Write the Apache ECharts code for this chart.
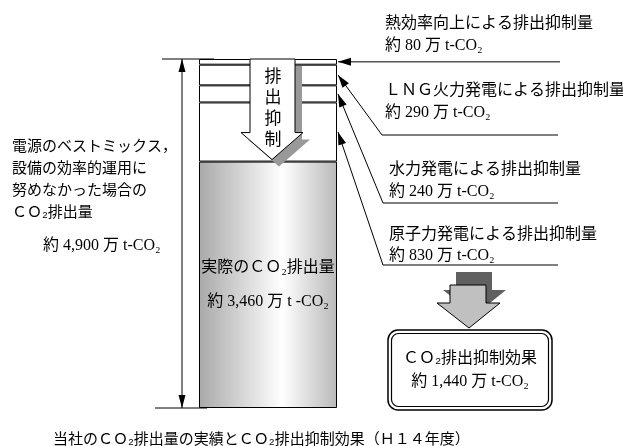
<!DOCTYPE html>
<html>
<head>
<meta charset="utf-8">
<script src="https://cdn.jsdelivr.net/npm/echarts@6/dist/echarts.min.js"></script>
<style>
  html, body { margin: 0; padding: 0; background: #fff; }
  #main { width: 623px; height: 446px; }
</style>
</head>
<body>
<div id="main"></div>
<script>
// 積み上げの各区分（下から）: 実際の排出量, 原子力, 水力, LNG火力, 熱効率向上
const segNames = ['実際の排出量', '原子力発電', '水力発電', 'LNG火力発電', '熱効率向上'];
const segValues = [3460, 830, 240, 290, 80];
const totalValue = 4900;
const effectValue = 1440;

// 右側の注記（上から）
const noteTitles = ['熱効率向上による排出抑制量', 'ＬＮＧ火力発電による排出抑制量', '水力発電による排出抑制量', '原子力発電による排出抑制量'];
const noteSegIndex = [4, 3, 2, 1];

const leftLines = ['電源のベストミックス，', '設備の効率的運用に', '努めなかった場合の', 'ＣＯ₂排出量'];
const caption = '当社のＣＯ₂排出量の実績とＣＯ₂排出抑制効果（Ｈ１４年度）';

const FONT = "'Liberation Serif', 'Noto Sans CJK JP', serif";
const GOTHIC = "'Noto Sans CJK JP', sans-serif";

const fmt = v => '約 ' + v.toLocaleString('en-US') + ' 万 t-CO₂';

const chart = echarts.init(document.getElementById('main'));

// バーの横位置（レイアウト）
const barLeft = 199;
const barWidth = 138;
const barRight = barLeft + barWidth;

const series = segValues.map((v, i) => ({
  name: segNames[i],
  type: 'bar',
  stack: 'total',
  barWidth: '100%',
  silent: true,
  data: [v],
  itemStyle: {
    color: i === 0
      ? new echarts.graphic.LinearGradient(0, 0, 1, 0, [
          { offset: 0, color: '#a9a9a9' },
          { offset: 0.6, color: '#ffffff' },
          { offset: 1, color: '#b9b9b9' }
        ])
      : '#ffffff',
    borderColor: '#000',
    borderWidth: 1
  },
  label: i === 0 ? {
    show: true,
    position: 'inside',
    formatter: '実際のＣＯ₂排出量\n' + fmt(v).replace('t-CO', 't -CO'),
    fontFamily: FONT,
    fontSize: 16,
    lineHeight: 34,
    color: '#000'
  } : { show: false }
}));

chart.setOption({
  animation: false,
  backgroundColor: '#fff',
  grid: { left: barLeft, width: barWidth, top: 59, bottom: 38 },
  xAxis: { type: 'category', data: ['H14'], show: false },
  yAxis: { type: 'value', min: 0, max: totalValue, show: false },
  series: series
});

// データ値 -> ピクセル y
const py = v => chart.convertToPixel({ gridIndex: 0 }, [0, v])[1];

// 各区分の下端・上端
const lows = [];
let acc = 0;
segValues.forEach(v => { lows.push(acc); acc += v; });
const yTop = py(totalValue);
const yBot = py(0);
const yGray = py(segValues[0]);

// 矢じり（先端 tip, 手前の点 from）
function arrowHead(from, tip, len, half) {
  const dx = tip[0] - from[0], dy = tip[1] - from[1];
  const d = Math.sqrt(dx * dx + dy * dy);
  const ux = dx / d, uy = dy / d;
  const bx = tip[0] - ux * len, by = tip[1] - uy * len;
  return {
    type: 'polygon', z: 102, silent: true,
    shape: { points: [tip, [bx - uy * half, by + ux * half], [bx + uy * half, by - ux * half]] },
    style: { fill: '#000' }
  };
}

function txt(text, x, y, size, opts) {
  return Object.assign({
    type: 'text', z: 103, silent: true,
    style: {
      text: text, x: x, y: y,
      font: size + 'px ' + FONT,
      fill: '#000', align: 'left', verticalAlign: 'middle'
    }
  }, opts || {});
}

const g = [];

// 寸法線
g.push({ type: 'line', z: 101, shape: { x1: 182, y1: yTop, x2: 182, y2: yBot }, style: { stroke: '#000', lineWidth: 1 } });
g.push(arrowHead([182, yTop + 20], [182, yTop], 13, 3.5));
g.push(arrowHead([182, yBot - 20], [182, yBot], 13, 3.5));
g.push({ type: 'line', z: 101, shape: { x1: 162, y1: yTop, x2: 214, y2: yTop }, style: { stroke: '#000', lineWidth: 1 } });
g.push({ type: 'line', z: 101, shape: { x1: 155, y1: yBot, x2: 207, y2: yBot }, style: { stroke: '#000', lineWidth: 1 } });

// 左の説明
leftLines.forEach((t, i) => {
  g.push(txt(t, 12, 145 + i * 22, 15, {}));
  g[g.length - 1].style.font = '15px ' + GOTHIC;
});
g.push(txt(fmt(totalValue), 43, 246, 16));

// 排出抑制の矢印
const tip = yGray - 2;
const headTop = tip - 27;
const arrowPts = [[250, yTop], [295, yTop], [295, headTop], [303, headTop], [272, tip], [241, headTop], [250, headTop]];
g.push({
  type: 'polygon', z: 99, silent: true,
  shape: { points: arrowPts.map(p => [p[0] + 7, p[1] + 7]) },
  style: { fill: '#999' }
});
g.push({
  type: 'polygon', z: 100, silent: true,
  shape: { points: arrowPts },
  style: { fill: '#fff', stroke: '#000', lineWidth: 1 }
});
g.push({
  type: 'text', z: 103, silent: true,
  style: {
    text: '排\n出\n抑\n制', x: 273, y: yTop + 6,
    font: '17px ' + GOTHIC, lineHeight: 21,
    fill: '#000', align: 'center', verticalAlign: 'top'
  }
});

// 右の注記と引出線
const noteY = [[22, 46, null], [89, 113, 135], [168, 192, 203], [233, 256, 265]];
const noteX = [385, 385, 389, 389];
noteTitles.forEach((t, i) => {
  const si = noteSegIndex[i];
  const mid = py(lows[si] + segValues[si] / 2);
  const tipPt = [barRight + 1, mid];
  const title = txt(t, noteX[i], noteY[i][0], 16);
  title.style.font = '16px ' + GOTHIC;
  g.push(title);
  g.push(txt(fmt(segValues[si]), noteX[i], noteY[i][1], 16));
  if (noteY[i][2] === null) {
    g.push({ type: 'line', z: 101, shape: { x1: 560, y1: mid, x2: tipPt[0], y2: mid }, style: { stroke: '#000', lineWidth: 1 } });
    g.push(arrowHead([560, mid], tipPt, 13, 4));
  } else {
    const uy = noteY[i][2];
    const ux = i === 1 ? 382 : 383;
    g.push({
      type: 'polyline', z: 101,
      shape: { points: [[558, uy], [ux, uy], tipPt] },
      style: { stroke: '#000', lineWidth: 1, fill: null }
    });
    g.push(arrowHead([ux, uy], tipPt, 13, 4));
  }
});

// 下向きの大矢印
const bigArrow = [[450, 285], [486, 285], [486, 303], [500, 303], [469, 328], [437, 303], [450, 303]];
g.push({
  type: 'polygon', z: 99, silent: true,
  shape: { points: bigArrow.map(p => [p[0] + 6, p[1] - 13]) },
  style: { fill: '#606060' }
});
g.push({
  type: 'polygon', z: 100, silent: true,
  shape: { points: bigArrow },
  style: { fill: '#c0c0c0', stroke: '#000', lineWidth: 1 }
});

// 抑制効果の枠
g.push({ type: 'rect', z: 100, shape: { x: 388, y: 330, width: 164, height: 80, r: 10 }, style: { fill: '#fff', stroke: '#000', lineWidth: 1.5 } });
g.push({ type: 'rect', z: 100, shape: { x: 391.5, y: 333.5, width: 157, height: 73, r: 7 }, style: { fill: '#fff', stroke: '#000', lineWidth: 1.2 } });
const boxTitle = txt('ＣＯ₂排出抑制効果', 470, 357, 16);
boxTitle.style.align = 'center';
boxTitle.style.font = '16px ' + GOTHIC;
g.push(boxTitle);
const boxVal = txt(fmt(effectValue), 470, 382, 16);
boxVal.style.align = 'center';
g.push(boxVal);

// 表題
const cap = txt(caption, 53, 438, 15);
cap.style.font = '15px ' + GOTHIC;
g.push(cap);

chart.setOption({ graphic: g });
</script>
</body>
</html>
